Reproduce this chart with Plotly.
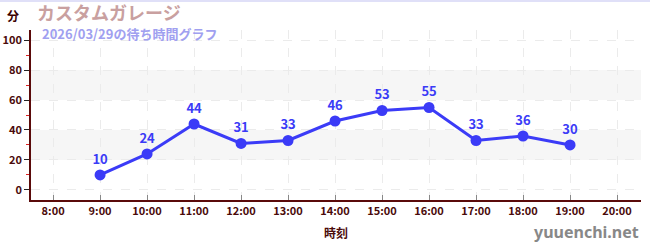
import plotly.graph_objects as go

hours = [9, 10, 11, 12, 13, 14, 15, 16, 17, 18, 19]
waits = [10, 24, 44, 31, 33, 46, 53, 55, 33, 36, 30]
tick_hours = [8, 9, 10, 11, 12, 13, 14, 15, 16, 17, 18, 19, 20]
tick_labels = ["8:00", "9:00", "10:00", "11:00", "12:00", "13:00", "14:00",
               "15:00", "16:00", "17:00", "18:00", "19:00", "20:00"]
y_ticks = [0, 20, 40, 60, 80, 100]
bands = [(20, 40), (60, 80)]
title = "カスタムガレージ"
subtitle = "2026/03/29の待ち時間グラフ"

W, H = 650, 250
L, R, T, B = 31, 9, 30, 50
PW, PH = W - L - R, H - T - B

def px(x):
    return (x - L) / PW

def py(y):
    return (H - B - y) / PH

FONT = "Noto Sans CJK JP"
AX = "#4a0a0a"

fig = go.Figure()
fig.add_trace(go.Scatter(
    x=hours, y=waits, mode="lines+markers+text",
    line=dict(color="#3b3bf7", width=3),
    marker=dict(color="#3b3bf7", size=11),
    text=[str(v) for v in waits], textposition="top center",
    textfont=dict(color="#3b3bf7", size=13, family=FONT, weight="bold"),
    cliponaxis=False, hoverinfo="skip",
))

shapes = []
for lo, hi in bands:
    shapes.append(dict(type="rect", xref="paper", yref="y", x0=0, x1=1, y0=lo, y1=hi,
                       fillcolor="#f6f6f6", line=dict(width=0), layer="below"))
shapes.append(dict(type="line", xref="paper", yref="paper",
                   x0=px(0), x1=px(W), y0=py(1), y1=py(1),
                   line=dict(color="#e0e0f8", width=2)))
fig.update_layout(shapes=shapes)

fig.update_layout(
    template="none",
    width=W, height=H, margin=dict(l=L, r=R, t=T, b=B, pad=0),
    paper_bgcolor="white", plot_bgcolor="white", showlegend=False,
    font=dict(family=FONT, color=AX),
    xaxis=dict(range=[7.53, 20.51], tickvals=tick_hours, ticktext=tick_labels,
               automargin=False,
               showgrid=True, gridcolor="#ebebeb", griddash="dash", gridwidth=1,
               showline=True, linecolor="#5a0a0a", linewidth=1.5,
               ticks="inside", ticklen=5, tickcolor="#888888",
               tickfont=dict(size=11, color=AX, family=FONT, weight="bold"),
               zeroline=False, fixedrange=True),
    yaxis=dict(range=[-6.7, 106.7], tickvals=y_ticks,
               automargin=False,
               showgrid=True, gridcolor="#ebebeb", griddash="dash", gridwidth=1,
               showline=True, linecolor="#5a0a0a", linewidth=1.5,
               ticks="outside", ticklen=5, tickcolor="#222222",
               tickfont=dict(size=11, color=AX, family=FONT, weight="bold"),
               minor=dict(tickvals=[10, 30, 50, 70, 90], ticks="outside", ticklen=3,
                          tickcolor="#dd2222", showgrid=False),
               zeroline=False, fixedrange=True),
)

ann = [
    dict(text="分", x=px(13), y=py(15), font=dict(size=12, color="#3a0000", weight="bold")),
    dict(text=title, x=px(35), y=py(12.5), xanchor="left",
         font=dict(size=18, color="#c9a0a0", weight="bold")),
    dict(text=subtitle, x=px(40), y=py(33.5), xanchor="left",
         font=dict(size=13, color="#a0a0f0", weight="bold")),
    dict(text="時刻", x=px(336), y=py(232), font=dict(size=12, color=AX, weight="bold")),
    dict(text="yuuenchi.net", x=px(641), y=py(232), xanchor="right",
         font=dict(size=16, color="#888888", family="Noto Sans", weight="bold")),
]
for a in ann:
    a.setdefault("xanchor", "center")
    a.update(xref="paper", yref="paper", yanchor="middle", showarrow=False)
    a["font"].setdefault("family", FONT)
fig.update_layout(annotations=ann)

fig.write_html("out.html")
